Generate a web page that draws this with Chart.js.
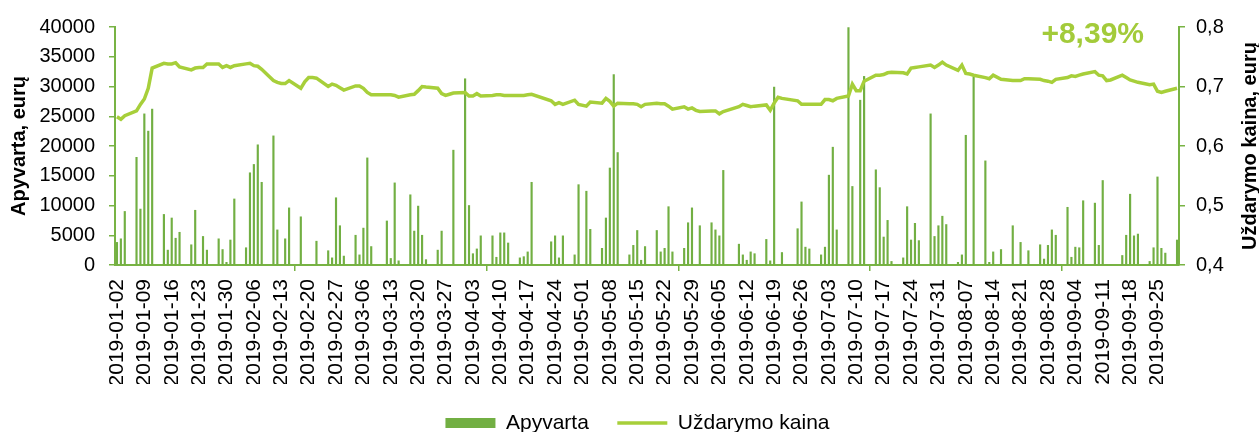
<!DOCTYPE html>
<html><head><meta charset="utf-8">
<script src="https://cdn.jsdelivr.net/npm/chart.js@4.4.1/dist/chart.umd.min.js"></script>
<style>html,body{margin:0;padding:0;background:#fff;}</style>
</head><body>
<canvas id="c" width="1259" height="432"></canvas>
<script>
// ---- DATA ----
const firstDay = '2019-01-02';
const lastDay = '2019-09-30';
const tradeDays = [
 '01-02','01-03','01-04',
 '01-07','01-08','01-09','01-10','01-11',
 '01-14','01-15','01-16','01-17','01-18',
 '01-21','01-22','01-23','01-24','01-25',
 '01-28','01-29','01-30','01-31','02-01',
 '02-04','02-05','02-06','02-07','02-08',
 '02-11','02-12','02-13','02-14','02-15',
 '02-18','02-19','02-20','02-21','02-22',
 '02-25','02-26','02-27','02-28','03-01',
 '03-04','03-05','03-06','03-07','03-08',
 '03-12','03-13','03-14','03-15',
 '03-18','03-19','03-20','03-21','03-22',
 '03-25','03-26','03-27','03-28','03-29',
 '04-01','04-02','04-03','04-04','04-05',
 '04-08','04-09','04-10','04-11','04-12',
 '04-15','04-16','04-17','04-18',
 '04-23','04-24','04-25','04-26',
 '04-29','04-30','05-02','05-03',
 '05-06','05-07','05-08','05-09','05-10',
 '05-13','05-14','05-15','05-16','05-17',
 '05-20','05-21','05-22','05-23','05-24',
 '05-27','05-28','05-29','05-30','05-31',
 '06-03','06-04','06-05','06-06','06-07',
 '06-10','06-11','06-12','06-13','06-14',
 '06-17','06-18','06-19','06-20','06-21',
 '06-25','06-26','06-27','06-28',
 '07-01','07-02','07-03','07-04','07-05',
 '07-08','07-09','07-10','07-11','07-12',
 '07-15','07-16','07-17','07-18','07-19',
 '07-22','07-23','07-24','07-25','07-26',
 '07-29','07-30','07-31','08-01','08-02',
 '08-05','08-06','08-07','08-08','08-09',
 '08-12','08-13','08-14','08-16',
 '08-19','08-20','08-21','08-22','08-23',
 '08-26','08-27','08-28','08-29','08-30',
 '09-02','09-03','09-04','09-05','09-06',
 '09-09','09-10','09-11','09-12','09-13',
 '09-16','09-17','09-18','09-19','09-20',
 '09-23','09-24','09-25','09-26','09-27',
 '09-30'
];
const turnover = [
 3800,4400,9000,
 18100,9400,25400,22500,26200,
 8500,2500,7900,4500,5500,
 3400,9200,0,4800,2500,
 4400,2600,450,4200,11100,
 2900,15500,16900,20200,13900,
 21700,5900,0,4400,9600,
 8100,0,0,0,4000,
 2400,1200,11300,6600,1500,
 5000,1700,6200,18000,3100,
 7400,1100,13800,700,
 11800,5700,9900,5000,900,
 2500,5700,0,0,19300,
 31300,10000,1900,2700,4900,
 4900,1300,5400,5400,3700,
 1200,1400,2200,13900,
 3900,4900,1200,4900,
 1700,13500,12400,6000,
 2800,7900,16300,32000,18900,
 1700,3300,5800,800,3100,
 5800,2200,2800,9800,2200,
 2800,7100,9600,0,6600,
 7100,5900,4900,15900,0,
 3500,1700,800,2200,1900,
 4300,700,29900,0,2100,
 6100,10600,3000,2700,
 1700,3000,15100,19800,5900,
 39900,13200,0,27700,31700,
 16000,13000,4700,7500,600,
 1200,9800,4200,7000,4100,
 25400,4800,6600,8200,6800,
 450,1700,21800,0,31600,
 17500,450,2200,2600,
 6600,0,3800,0,2400,
 3400,1000,3300,5900,5000,
 9700,1300,3000,2900,10800,
 10400,3300,14200,0,0,
 1600,5000,11900,4900,5200,
 600,2900,14800,2800,2000,
 4200
];
const closePrice = [
 0.649,0.645,0.651,
 0.659,0.670,0.679,0.697,0.731,
 0.739,0.738,0.738,0.740,0.733,
 0.728,0.731,0.732,0.732,0.738,
 0.738,0.732,0.735,0.732,0.735,
 0.738,0.739,0.735,0.734,0.729,
 0.710,0.707,0.705,0.705,0.710,
 0.697,0.708,0.715,0.715,0.714,
 0.700,0.704,0.702,0.698,0.694,
 0.701,0.701,0.697,0.690,0.686,
 0.686,0.686,0.685,0.682,
 0.686,0.687,0.693,0.700,0.699,
 0.697,0.688,0.685,0.687,0.689,
 0.690,0.684,0.684,0.688,0.684,
 0.685,0.686,0.686,0.685,0.685,
 0.685,0.685,0.686,0.687,
 0.676,0.670,0.673,0.670,
 0.677,0.670,0.667,0.674,
 0.672,0.680,0.675,0.667,0.672,
 0.671,0.671,0.670,0.666,0.670,
 0.672,0.671,0.671,0.667,0.662,
 0.666,0.662,0.664,0.660,0.658,
 0.659,0.659,0.654,0.658,0.660,
 0.666,0.670,0.668,0.666,0.667,
 0.669,0.660,0.672,0.682,0.680,
 0.676,0.670,0.670,0.670,
 0.670,0.678,0.678,0.676,0.680,
 0.684,0.704,0.693,0.693,0.709,
 0.719,0.719,0.720,0.723,0.724,
 0.723,0.721,0.731,0.732,0.733,
 0.736,0.732,0.736,0.741,0.736,
 0.727,0.736,0.722,0.721,0.719,
 0.715,0.713,0.719,0.712,
 0.710,0.710,0.710,0.713,0.713,
 0.712,0.710,0.709,0.707,0.712,
 0.715,0.718,0.717,0.719,0.721,
 0.725,0.719,0.718,0.710,0.711,
 0.719,0.715,0.711,0.709,0.707,
 0.703,0.704,0.692,0.690,0.692,
 0.697
];
const seriesNames = ['Apyvarta', 'Uždarymo kaina'];
const leftAxisTitle = 'Apyvarta, eurų';
const rightAxisTitle = 'Uždarymo kaina, eurų';
const changeLabel = '+8,39%';

// ---- STYLE ----
const FONT = '"Liberation Sans", Arial, sans-serif';
const AX = '#78b344';
const BAR = '#72af43';
const LINE = '#a7cf3a';
const TITLE_COLOR = '#a3cb3a';

// calendar categories (every day of the period)
const calendar = [];
for (let d = new Date(firstDay + 'T00:00:00Z'); d <= new Date(lastDay + 'T00:00:00Z'); d.setUTCDate(d.getUTCDate() + 1)) {
  calendar.push(d.toISOString().slice(0, 10));
}
const barData = tradeDays.map((m, i) => ({x: '2019-' + m, y: turnover[i]}));
const lineData = tradeDays.map((m, i) => ({x: '2019-' + m, y: closePrice[i]}));

const textPlugin = {
  id: 'texts',
  afterDraw(chart) {
    const {ctx, chartArea} = chart;
    const cy = (chartArea.top + chartArea.bottom) / 2;
    ctx.save();
    ctx.fillStyle = TITLE_COLOR;
    ctx.font = 'bold 30px ' + FONT;
    ctx.textAlign = 'right';
    ctx.textBaseline = 'alphabetic';
    ctx.fillText(changeLabel, 1144, 43);
    ctx.fillStyle = '#000';
    ctx.font = 'bold 20px ' + FONT;
    ctx.textAlign = 'center';
    ctx.textBaseline = 'middle';
    ctx.save(); ctx.translate(19, cy); ctx.rotate(-Math.PI / 2); ctx.fillText(leftAxisTitle, 0, 0); ctx.restore();
    ctx.save(); ctx.translate(1250, cy); ctx.rotate(-Math.PI / 2); ctx.fillText(rightAxisTitle, 0, 0); ctx.restore();
    ctx.restore();
  }
};

new Chart(document.getElementById('c'), {
  type: 'bar',
  data: {
    labels: calendar,
    datasets: [
      {
        type: 'line', label: seriesNames[1], data: lineData, yAxisID: 'y1',
        borderColor: LINE, backgroundColor: LINE, borderWidth: 3.5,
        pointRadius: 0, pointStyle: 'line', tension: 0, spanGaps: true, order: 0
      },
      {
        type: 'bar', label: seriesNames[0], data: barData, yAxisID: 'y',
        backgroundColor: BAR, borderWidth: 0, barThickness: 1.5,
        pointStyle: 'rect', order: 1
      }
    ]
  },
  options: {
    responsive: false,
    animation: false,
    devicePixelRatio: 1,
    layout: {padding: {top: 27, left: 16, right: 0, bottom: -11.5}},
    plugins: {
      tooltip: {enabled: false},
      legend: {
        position: 'bottom',
        reverse: true,
        labels: {
          usePointStyle: true, pointStyleWidth: 50, boxHeight: 10,
          padding: 28.5, color: '#000', font: {size: 21, family: FONT}
        }
      }
    },
    scales: {
      x: {
        type: 'category', offset: true,
        grid: {
          offset: true, drawOnChartArea: false, drawTicks: true, tickLength: 6, lineWidth: 1.5,
          color: (c) => (c.index % 7 === 0 ? AX : 'rgba(0,0,0,0)')
        },
        border: {color: AX, width: 2},
        ticks: {
          autoSkip: false, minRotation: 90, maxRotation: 90, padding: 8,
          color: '#000', font: {size: 21, family: FONT},
          callback: function (v, i) { return i % 7 === 0 ? this.getLabelForValue(v) : null; }
        },
        afterFit(s) { s.height = 119; }
      },
      y: {
        position: 'left', min: 0, max: 40000,
        grid: {drawOnChartArea: false, drawTicks: true, tickLength: 6, color: AX, lineWidth: 1.5},
        border: {color: AX, width: 2},
        ticks: {stepSize: 5000, padding: 14, color: '#000', font: {size: 20, family: FONT}, callback: (v) => String(v)},
        afterFit(s) { s.width = 99; }
      },
      y1: {
        position: 'right', min: 0.4, max: 0.8,
        grid: {drawOnChartArea: false, drawTicks: true, tickLength: 6, color: AX, lineWidth: 1.5},
        border: {color: AX, width: 2},
        ticks: {stepSize: 0.1, padding: 11, color: '#000', font: {size: 20, family: FONT}, callback: (v) => v.toFixed(1).replace('.', ',')},
        afterFit(s) { s.width = 80; }
      }
    }
  },
  plugins: [textPlugin]
});
</script>
</body></html>
